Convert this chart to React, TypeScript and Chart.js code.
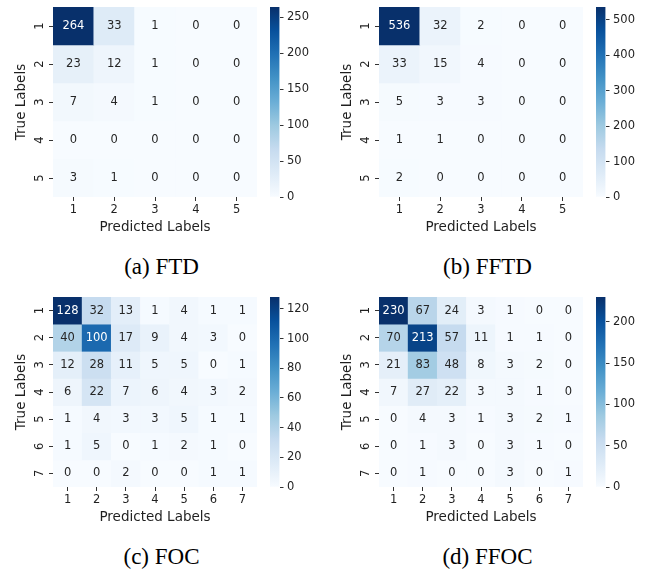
import React, { useEffect, useRef } from 'react';
import { Chart, registerables } from 'chart.js';

Chart.register(...registerables);

// ---------------- data ----------------
const labels5 = ['1', '2', '3', '4', '5'];
const labels7 = ['1', '2', '3', '4', '5', '6', '7'];

const ftdMatrix = [
  [264, 33, 1, 0, 0],
  [23, 12, 1, 0, 0],
  [7, 4, 1, 0, 0],
  [0, 0, 0, 0, 0],
  [3, 1, 0, 0, 0],
];
const fftdMatrix = [
  [536, 32, 2, 0, 0],
  [33, 15, 4, 0, 0],
  [5, 3, 3, 0, 0],
  [1, 1, 0, 0, 0],
  [2, 0, 0, 0, 0],
];
const focMatrix = [
  [128, 32, 13, 1, 4, 1, 1],
  [40, 100, 17, 9, 4, 3, 0],
  [12, 28, 11, 5, 5, 0, 1],
  [6, 22, 7, 6, 4, 3, 2],
  [1, 4, 3, 3, 5, 1, 1],
  [1, 5, 0, 1, 2, 1, 0],
  [0, 0, 2, 0, 0, 1, 1],
];
const ffocMatrix = [
  [230, 67, 24, 3, 1, 0, 0],
  [70, 213, 57, 11, 1, 1, 0],
  [21, 83, 48, 8, 3, 2, 0],
  [7, 27, 22, 3, 3, 1, 0],
  [0, 4, 3, 1, 3, 2, 1],
  [0, 1, 3, 0, 3, 1, 0],
  [0, 1, 0, 0, 3, 0, 1],
];

const ftdTicks = [0, 50, 100, 150, 200, 250];
const fftdTicks = [0, 100, 200, 300, 400, 500];
const focTicks = [0, 20, 40, 60, 80, 100, 120];
const ffocTicks = [0, 50, 100, 150, 200];

const captions = ['(a) FTD', '(b) FFTD', '(c) FOC', '(d) FFOC'];
const xTitle = 'Predicted Labels';
const yTitle = 'True Labels';

// ---------------- colours ----------------
const BLUES = [
  [247, 251, 255], [222, 235, 247], [198, 219, 239], [158, 202, 225], [107, 174, 214],
  [66, 146, 198], [33, 113, 181], [8, 81, 156], [8, 48, 107],
];
function bluesRGB(t: number): number[] {
  const tt = Math.max(0, Math.min(1, t));
  const p = tt * 8;
  const i = Math.min(7, Math.floor(p));
  const f = p - i;
  const a = BLUES[i];
  const b = BLUES[i + 1];
  return [0, 1, 2].map((k) => Math.round(a[k] + (b[k] - a[k]) * f));
}
const rgb = (c: number[]) => `rgb(${c[0]},${c[1]},${c[2]})`;
function textColorFor(c: number[]) {
  const lin = c.map((v) => {
    const s = v / 255;
    return s <= 0.03928 ? s / 12.92 : Math.pow((s + 0.055) / 1.055, 2.4);
  });
  const lum = 0.2126 * lin[0] + 0.7152 * lin[1] + 0.0722 * lin[2];
  return lum > 0.408 ? '#262626' : '#ffffff';
}

const FONT = 'DejaVu Sans';
const INK = '#1f1f1f';
const TICK_SIZE = 11.5;
const TITLE_SIZE = 13.5;

// ---------------- heatmap ----------------
function Heatmap({ matrix, rowLabels, colLabels, left, top }: any) {
  const ref = useRef<HTMLCanvasElement | null>(null);
  useEffect(() => {
    const canvas = ref.current!;
    const vmax = Math.max(...matrix.flat());
    const n = rowLabels.length;
    const datasets = matrix.map((row: number[], r: number) => ({
      data: row.map(() => [r + 0.5, r + 1.5]),
      backgroundColor: row.map((v) => rgb(bluesRGB(v / vmax))),
      borderWidth: 0,
      barPercentage: 1,
      categoryPercentage: 1,
      grouped: false,
    }));
    const annot = {
      id: 'annot',
      afterDatasetsDraw(chart: any) {
        const ctx = chart.ctx;
        ctx.save();
        ctx.font = `${TICK_SIZE}px "${FONT}"`;
        ctx.textAlign = 'center';
        ctx.textBaseline = 'middle';
        chart.data.datasets.forEach((_ds: any, r: number) => {
          const meta = chart.getDatasetMeta(r);
          meta.data.forEach((el: any, c: number) => {
            const { x, y, base } = el.getProps(['x', 'y', 'base'], true);
            const v = matrix[r][c];
            ctx.fillStyle = textColorFor(bluesRGB(v / vmax));
            ctx.fillText(String(v), x, (y + base) / 2);
          });
        });
        ctx.restore();
      },
    };
    const chart = new Chart(canvas, {
      type: 'bar',
      data: { labels: colLabels, datasets },
      plugins: [annot],
      options: {
        animation: false,
        responsive: false,
        devicePixelRatio: 1,
        layout: { padding: { top: 7, right: 5, left: 0, bottom: 0 } },
        plugins: { legend: { display: false }, tooltip: { enabled: false } },
        scales: {
          x: {
            type: 'category',
            offset: true,
            grid: { display: true, drawOnChartArea: false, drawTicks: true, tickLength: 4, offset: false, color: '#333', lineWidth: 1 },
            border: { display: false },
            ticks: { color: INK, font: { family: FONT, size: TICK_SIZE }, padding: 2, maxRotation: 0, minRotation: 0, autoSkip: false },
            title: { display: true, text: xTitle, color: INK, font: { family: FONT, size: TITLE_SIZE }, padding: { top: 0, bottom: 4.5 } },
            afterFit: (s: any) => { s.height = 43; s.paddingLeft = 0; s.paddingRight = 0; },
          },
          y: {
            type: 'linear',
            min: 0.5,
            max: n + 0.5,
            reverse: true,
            afterBuildTicks: (s: any) => { s.ticks = rowLabels.map((_: any, i: number) => ({ value: i + 1 })); },
            grid: { display: true, drawOnChartArea: false, drawTicks: true, tickLength: 4, color: '#333', lineWidth: 1 },
            border: { display: false },
            ticks: {
              color: INK,
              font: { family: FONT, size: TICK_SIZE },
              padding: 5,
              minRotation: 90,
              maxRotation: 90,
              crossAlign: 'center',
              callback: (v: any) => rowLabels[Math.round(v) - 1],
            },
            title: { display: true, text: yTitle, color: INK, font: { family: FONT, size: TITLE_SIZE }, padding: { top: 13, bottom: 0 } },
            afterFit: (s: any) => { s.width = 53; s.paddingTop = 0; s.paddingBottom = 0; },
          },
        },
      } as any,
    });
    return () => chart.destroy();
  }, []);
  return (
    <canvas ref={ref} width={262} height={240}
      style={{ position: 'absolute', left, top, width: 262, height: 240 }} />
  );
}

// ---------------- colorbar ----------------
function Colorbar({ matrix, ticks, left, top }: any) {
  const ref = useRef<HTMLCanvasElement | null>(null);
  useEffect(() => {
    const canvas = ref.current!;
    const vmax = Math.max(...matrix.flat());
    const chart = new Chart(canvas, {
      type: 'bar',
      data: {
        labels: [''],
        datasets: [{
          data: [[0, vmax]],
          borderWidth: 0,
          barPercentage: 1,
          categoryPercentage: 1,
          backgroundColor: (ctx: any) => {
            const ch = ctx.chart;
            if (!ch.chartArea) return rgb(BLUES[4]);
            const ys = ch.scales.y;
            const g = ch.ctx.createLinearGradient(0, ys.getPixelForValue(0), 0, ys.getPixelForValue(vmax));
            BLUES.forEach((c, i) => g.addColorStop(i / 8, rgb(c)));
            return g;
          },
        }],
      },
      options: {
        animation: false,
        responsive: false,
        devicePixelRatio: 1,
        layout: { padding: { top: 7, left: 4, right: 0, bottom: 43 } },
        plugins: { legend: { display: false }, tooltip: { enabled: false } },
        scales: {
          x: { display: false, offset: true },
          y: {
            type: 'linear',
            position: 'right',
            min: 0,
            max: vmax,
            afterBuildTicks: (s: any) => { s.ticks = ticks.map((v: number) => ({ value: v })); },
            grid: { display: true, drawOnChartArea: false, drawTicks: true, tickLength: 4, color: '#333', lineWidth: 1 },
            border: { display: false },
            ticks: { color: INK, font: { family: FONT, size: TICK_SIZE }, padding: 3.5 },
            afterFit: (s: any) => { s.width = 42.5; s.paddingTop = 0; s.paddingBottom = 0; },
          },
        },
      } as any,
    });
    return () => chart.destroy();
  }, []);
  return (
    <canvas ref={ref} width={56} height={240}
      style={{ position: 'absolute', left, top, width: 56, height: 240 }} />
  );
}

function Caption({ text, left, top }: any) {
  return (
    <div style={{
      position: 'absolute', left, top, width: 323, height: 30, lineHeight: '30px',
      textAlign: 'center', fontFamily: '"Liberation Serif", "Times New Roman", serif',
      fontSize: 23, color: '#000', whiteSpace: 'nowrap',
    }}>{text}</div>
  );
}

export default function App() {
  const dx = 326;
  const dy = 290;
  return (
    <div style={{ position: 'absolute', left: 0, top: 0, width: 645, height: 575, background: '#fff', overflow: 'hidden' }}>
      <Heatmap matrix={ftdMatrix} rowLabels={labels5} colLabels={labels5} left={0} top={0} />
      <Colorbar matrix={ftdMatrix} ticks={ftdTicks} left={266} top={0} />
      <Caption text={captions[0]} left={0} top={251.5} />

      <Heatmap matrix={fftdMatrix} rowLabels={labels5} colLabels={labels5} left={dx} top={0} />
      <Colorbar matrix={fftdMatrix} ticks={fftdTicks} left={266 + dx} top={0} />
      <Caption text={captions[1]} left={dx} top={251.5} />

      <Heatmap matrix={focMatrix} rowLabels={labels7} colLabels={labels7} left={0} top={dy} />
      <Colorbar matrix={focMatrix} ticks={focTicks} left={266} top={dy} />
      <Caption text={captions[2]} left={0} top={251.5 + dy} />

      <Heatmap matrix={ffocMatrix} rowLabels={labels7} colLabels={labels7} left={dx} top={dy} />
      <Colorbar matrix={ffocMatrix} ticks={ffocTicks} left={266 + dx} top={dy} />
      <Caption text={captions[3]} left={dx} top={251.5 + dy} />
    </div>
  );
}
